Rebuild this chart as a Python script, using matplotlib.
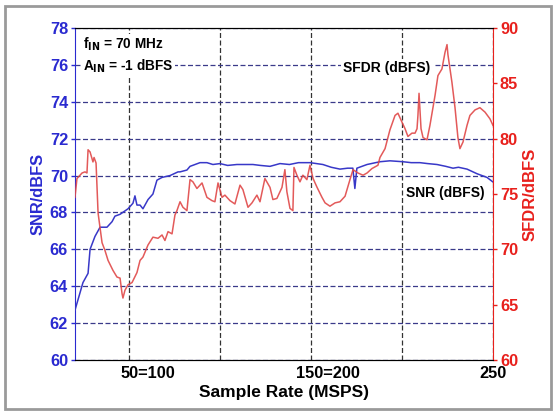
import numpy as np
import matplotlib
matplotlib.use('Agg')
import matplotlib.pyplot as plt
from matplotlib.patches import Rectangle

plt.rcParams['font.family'] = ['Liberation Sans', 'DejaVu Sans']
plt.rcParams['font.weight'] = 'bold'
plt.rcParams['mathtext.default'] = 'bf'

# SNR (left axis)
snr_x = [20.0, 24.4, 27.2, 28.3, 31.0, 33.8, 37.6, 40.4, 42.0, 44.8, 49.2, 51.9,
         53.0, 54.1, 55.8, 57.4, 60.2, 62.9, 65.1, 67.9, 72.3, 76.7, 77.8, 81.6,
         83.3, 88.8, 92.6, 95.9, 99.8, 104.0, 109.1, 113.0, 117.9, 122.0, 127.3,
         132.8, 138.0, 143.0, 149.3, 156.4, 161.0, 165.8, 170.0, 172.9, 174.0,
         175.1, 180.7, 187.8, 193.3, 200.5, 205.0, 209.8, 214.0, 219.2, 224.0,
         228.0, 231.0, 235.7, 241.2, 246.7, 250.0]
snr_y = [62.7, 64.2, 64.7, 66.0, 66.7, 67.2, 67.2, 67.5, 67.8, 67.9, 68.2, 68.5,
         68.9, 68.4, 68.4, 68.2, 68.7, 69.0, 69.75, 69.9, 70.0, 70.2, 70.2, 70.3,
         70.5, 70.7, 70.7, 70.6, 70.65, 70.55, 70.6, 70.6, 70.6, 70.55, 70.5,
         70.65, 70.6, 70.7, 70.7, 70.6, 70.45, 70.35, 70.4, 70.4, 69.3,
         70.4, 70.6, 70.75, 70.8, 70.75, 70.7, 70.7, 70.65, 70.6, 70.5,
         70.4, 70.45, 70.35, 70.1, 69.9, 69.65]

# SFDR (right axis)
sfdr_x = [20.0, 21.1, 23.9, 25.5, 26.6, 27.2, 28.3, 29.9, 30.5, 31.6, 32.7, 34.9,
          36.5, 38.2, 40.9, 43.1, 44.8, 45.9, 46.4, 47.5, 49.2, 51.4, 54.1, 55.8,
          57.4, 60.2, 62.9, 65.7, 67.9, 69.5, 71.2, 73.4, 75.0, 76.1, 77.8, 79.4,
          81.6, 83.3, 84.9, 87.1, 89.9, 92.6, 95.4, 97.0, 98.7, 100.9, 102.5,
          105.3, 108.0, 110.8, 112.4, 115.2, 117.4, 120.1, 121.8, 124.5, 127.3,
          128.9, 131.1, 133.9, 135.5, 136.6, 138.3, 139.9, 140.5, 142.1, 143.8,
          145.4, 147.6, 149.3, 151.0, 153.2, 155.9, 157.6, 160.3, 163.1, 165.8,
          168.6, 171.3, 173.0, 175.7, 178.5, 180.7, 183.4, 186.7, 187.8, 190.6,
          193.3, 196.1, 197.7, 199.9, 201.6, 203.2, 205.4, 207.1, 208.2, 208.7,
          209.3, 210.4, 211.5, 213.7, 215.3, 218.1, 219.7, 221.9, 223.6, 224.7,
          225.2, 227.4, 229.1, 230.7, 231.8, 233.5, 235.7, 237.3, 240.1, 242.8,
          245.6, 248.3, 250.0]
sfdr_y = [74.7, 76.4, 76.9, 77.0, 76.9, 79.0, 78.8, 77.9, 78.3, 77.8, 73.3, 70.6,
          69.9, 69.0, 68.1, 67.5, 67.4, 66.0, 65.6, 66.3, 66.8, 67.0, 67.9, 69.0,
          69.3, 70.4, 71.1, 71.0, 71.3, 70.8, 71.6, 71.4, 73.1, 73.5, 74.3, 73.8,
          73.5, 76.3, 76.1, 75.5, 76.0, 74.7, 74.4, 74.3, 76.0, 74.7, 74.9,
          74.4, 74.1, 75.8, 75.4, 73.8, 74.2, 74.9, 74.3, 76.4, 75.6,
          74.5, 74.6, 75.6, 77.2, 75.2, 73.7, 73.5, 77.4, 76.7, 76.1,
          76.7, 76.3, 77.6, 76.4, 75.6, 74.7, 74.2, 73.9, 74.2, 74.3,
          74.8, 76.3, 77.2, 76.9, 76.7, 76.9, 77.3, 77.6, 78.3, 79.1,
          80.8, 82.1, 82.3, 81.5, 80.9, 80.2, 80.5, 80.5, 80.9, 82.1,
          84.1, 80.9, 80.1, 79.9, 81.2, 83.9, 85.7, 86.3, 87.8, 88.5,
          87.6, 85.1, 82.8, 80.1, 79.1, 79.7, 81.2, 82.1, 82.6, 82.8,
          82.4, 81.8, 81.2]

left_ticks = np.arange(60, 79, 2)
right_ticks = np.arange(60, 91, 5)
x_grid = [50, 100, 150, 200, 250]
x_labels = ['50=100', '150=200']
x_label_pos = [60, 159]

blue = '#2a2ad0'
red = '#e8201c'

fig = plt.figure(figsize=(5.57, 4.15), dpi=100)
fig.patches.append(Rectangle((0.009, 0.014), 0.98, 0.972, transform=fig.transFigure,
                             fill=False, edgecolor='#9a9a9a', linewidth=2))

ax = fig.add_axes([0.1346, 0.1325, 0.7505, 0.80])
ax2 = ax.twinx()

ax.plot(snr_x, snr_y, color='#3838c8', lw=1.1, zorder=3)
ax2.plot(sfdr_x, sfdr_y, color='#e04848', lw=1.1, alpha=0.9)

ax.set_xlim(20, 250)
ax.set_ylim(60, 78)
ax2.set_ylim(60, 90)

ax.set_yticks(left_ticks)
ax2.set_yticks(right_ticks)
ax.set_xticks(x_grid)
ax.set_xticklabels(['', '', '', '', '250'])
ax.set_xticks(x_label_pos, minor=True)
ax.set_xticklabels(x_labels, minor=True)
ax.tick_params(axis='x', which='minor', length=0, pad=4)
ax.tick_params(axis='x', which='major', length=0, pad=4)
for lab in ax.get_xticklabels(which='both'):
    lab.set_fontsize(11.8)
    lab.set_fontweight('bold')

ax.tick_params(axis='y', colors=blue, labelsize=11.8, length=3, width=1, pad=2)
ax2.tick_params(axis='y', colors=red, labelsize=11.8, length=3, width=1, pad=2)

ax.yaxis.grid(True, color='#3a3a8a', linestyle=(0, (4, 2)), linewidth=0.9)
ax.xaxis.grid(True, which='major', color='#333333', linestyle=(0, (4, 2)), linewidth=0.9)

ax.spines['left'].set_color(blue)
ax2.spines['left'].set_visible(False)
ax2.spines['right'].set_color(red)
ax.spines['right'].set_visible(False)
for s in ['top', 'bottom']:
    ax.spines[s].set_color('#222222')

ax.set_xlabel('Sample Rate (MSPS)', fontsize=12.5, fontweight='bold', labelpad=3)
ax.set_ylabel('SNR/dBFS', fontsize=11.8, fontweight='bold', color=blue, labelpad=3)
ax2.set_ylabel('SFDR/dBFS', fontsize=12, fontweight='bold', color=red, labelpad=3)

box = dict(facecolor='white', edgecolor='none', pad=1.5)
ax.text(24.4, 77.1, r'f$_{IN}$ = 70 MHz', fontsize=9.8, fontweight='bold', va='center', bbox=box, zorder=5)
ax.text(24.4, 75.95, r'A$_{IN}$ = -1 dBFS', fontsize=9.8, fontweight='bold', va='center', bbox=box, zorder=5)
ax.text(191.7, 75.85, 'SFDR (dBFS)', fontsize=10, fontweight='bold', ha='center', va='center', bbox=box, zorder=5)
ax.text(223.6, 69.06, 'SNR (dBFS)', fontsize=10, fontweight='bold', ha='center', va='center', bbox=box, zorder=5)

fig.savefig('out.png', dpi=100)
